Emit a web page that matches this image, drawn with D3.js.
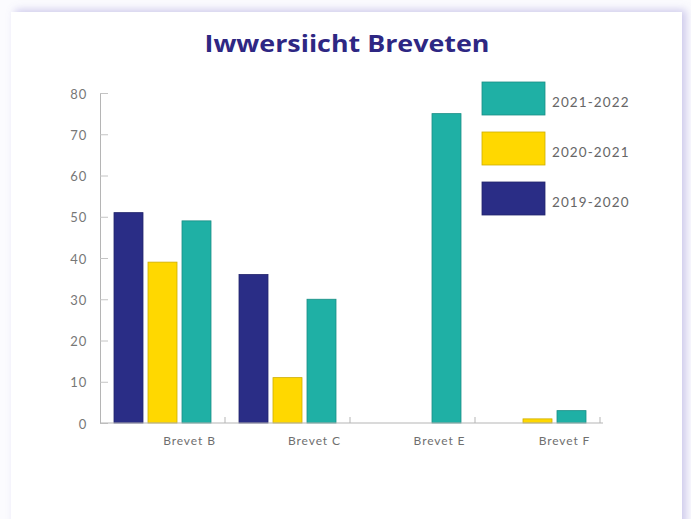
<!DOCTYPE html>
<html>
<head>
<meta charset="utf-8">
<script src="https://cdn.jsdelivr.net/npm/d3@7"></script>
<style>
  html, body { margin: 0; padding: 0; background: #fbfbfe; }
  #card {
    position: absolute; left: 11px; top: 12px; width: 671px; height: 520px;
    background: #fff;
    box-shadow: 4px -2px 8px rgba(120, 110, 200, 0.35);
  }
  svg { position: absolute; left: 0; top: 0; }
</style>
</head>
<body>
<div id="card"></div>
<div id="chart"></div>
<script>
// categories and series
var categories = ["Brevet B", "Brevet C", "Brevet E", "Brevet F"];
var series = ["2019-2020", "2020-2021", "2021-2022"];
var values2019 = [51, 36, 0, 0];
var values2020 = [39, 11, 0, 1];
var values2021 = [49, 30, 75, 3];
var yTicks = [0, 10, 20, 30, 40, 50, 60, 70, 80];
var colors = ["#2a2d86", "#ffd800", "#1fb0a5"];
var legendOrder = ["2021-2022", "2020-2021", "2019-2020"];

var seriesValues = [values2019, values2020, values2021];

var width = 691, height = 519;
var labelFont = "Lato, 'Open Sans', sans-serif";

var svg = d3.select("#chart")
  .append("svg")
  .attr("width", width)
  .attr("height", height);

// title
svg.append("text")
  .attr("x", 347)
  .attr("y", 52)
  .attr("text-anchor", "middle")
  .attr("textLength", 285)
  .attr("lengthAdjust", "spacingAndGlyphs")
  .style("font-family", "'Open Sans', Lato, sans-serif")
  .style("font-weight", "700")
  .style("font-size", "24px")
  .style("fill", "#2e2783")
  .text("Iwwersiicht Breveten");

// scales
var x = d3.scaleBand()
  .domain(categories)
  .range([100, 600])
  .padding(0);

var xSub = d3.scaleBand()
  .domain(series)
  .range([14, 111])
  .paddingInner(0.147)
  .paddingOuter(0);

var y = d3.scaleLinear()
  .domain([0, 80])
  .range([423, 93]);

// Y axis
var yAxis = svg.append("g")
  .attr("transform", "translate(100,0)")
  .call(d3.axisLeft(y).tickValues(yTicks).tickSizeInner(-8).tickSizeOuter(0).tickPadding(13));
yAxis.select(".domain").attr("stroke", "#b5b5b5");
yAxis.selectAll(".tick line").attr("stroke", "#c4c4c4");
yAxis.selectAll("text")
  .attr("dy", "0.4em")
  .style("font-family", labelFont)
  .style("font-size", "13px")
  .style("letter-spacing", "0.8px")
  .style("fill", "#777");

// bars
var groups = svg.selectAll("g.cat")
  .data(categories)
  .enter()
  .append("g")
    .attr("class", "cat")
    .attr("transform", function(d) { return "translate(" + x(d) + ",0)"; });

groups.selectAll("rect")
  .data(function(d, i) {
    return series.map(function(s, j) { return {s: s, v: seriesValues[j][i], c: colors[j]}; });
  })
  .enter()
  .append("rect")
    .attr("x", function(d) { return xSub(d.s); })
    .attr("y", function(d) { return y(d.v); })
    .attr("width", xSub.bandwidth())
    .attr("height", function(d) { return y(0) - y(d.v); })
    .attr("fill", function(d) { return d.c; })
    .attr("stroke", function(d) { return d.v > 0 ? d3.color(d.c).darker(0.6) : "none"; })
    .attr("stroke-width", 0.8);

// X axis
var xAxis = svg.append("g")
  .attr("transform", "translate(0," + y(0) + ")")
  .call(d3.axisBottom(x).tickSize(0).tickSizeOuter(0).tickPadding(13));
xAxis.select(".domain").attr("stroke", "#b5b5b5").attr("d", "M100,0H603");
xAxis.selectAll("text")
  .attr("dx", 27)
  .style("font-family", labelFont)
  .style("font-size", "12px")
  .style("letter-spacing", "0.9px")
  .style("fill", "#6f6f6f");

// boundary ticks on the x axis
xAxis.selectAll("line.bound")
  .data(categories)
  .enter()
  .append("line")
    .attr("class", "bound")
    .attr("x1", function(d) { return x(d) + x.bandwidth(); })
    .attr("x2", function(d) { return x(d) + x.bandwidth(); })
    .attr("y1", 0)
    .attr("y2", -6)
    .attr("stroke", "#b5b5b5");

// legend
var legend = svg.selectAll("g.legend")
  .data(legendOrder)
  .enter()
  .append("g")
    .attr("class", "legend")
    .attr("transform", function(d, i) { return "translate(482," + (82 + i * 50) + ")"; });

legend.append("rect")
  .attr("width", 63)
  .attr("height", 33)
  .attr("fill", function(d) { return colors[series.indexOf(d)]; })
  .attr("stroke", function(d) { return d3.color(colors[series.indexOf(d)]).darker(0.6); })
  .attr("stroke-width", 0.8);

legend.append("text")
  .attr("x", 70)
  .attr("y", 25)
  .style("font-family", labelFont)
  .style("font-size", "13.5px")
  .style("letter-spacing", "1.1px")
  .style("fill", "#666")
  .text(function(d) { return d; });
</script>
</body>
</html>
